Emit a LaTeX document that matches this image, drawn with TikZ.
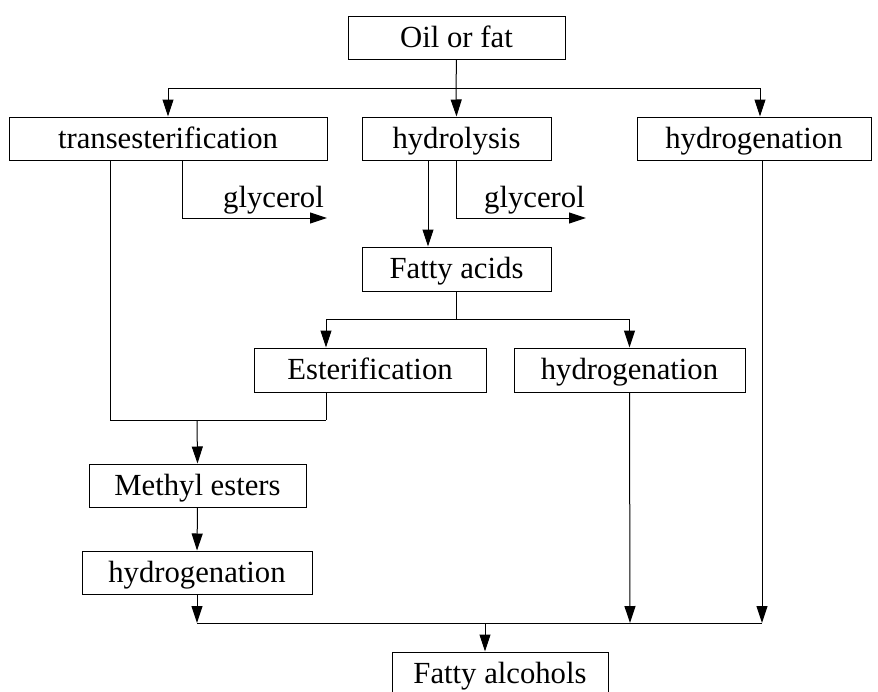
\documentclass[tikz,border=0pt]{standalone}
\usepackage{fontspec}
\setmainfont{Liberation Serif}
\usetikzlibrary{arrows.meta}
\begin{document}
\begin{tikzpicture}[x=1pt,y=-1pt,
  every node/.style={font=\fontsize{30.7}{36}\selectfont, inner sep=0pt,
    text height=24pt, text depth=5pt},
  proc/.style={draw, line width=1pt, minimum height=43pt},
  link/.style={line width=1pt},
  arr/.style={link, -{Triangle[length=17pt,width=11pt]}}]
\useasboundingbox (0,0) rectangle (878,691);

% process boxes
\node[proc, minimum width=217pt] (oil)   at (456.5,37.5)  {Oil or fat};
\node[proc, minimum width=318pt] (trans) at (168,138.5)   {transesterification};
\node[proc, minimum width=189pt] (hydro) at (456.5,138.5) {hydrolysis};
\node[proc, minimum width=234pt] (hydA)  at (754,138.5)   {hydrogenation};
\node[proc, minimum width=189pt, minimum height=44pt] (acids) at (456.5,269) {Fatty acids};
\node[proc, minimum width=232pt, minimum height=44pt] (ester) at (370,370)   {Esterification};
\node[proc, minimum width=231pt, minimum height=44pt] (hydB)  at (629.5,370) {hydrogenation};
\node[proc, minimum width=217pt] (methyl) at (197.5,485.5) {Methyl esters};
\node[proc, minimum width=230pt] (hydC)   at (197,572.5)   {hydrogenation};
\node[proc, minimum width=216pt] (alc)    at (500,673.5)   {Fatty alcohols};

% junction points
\coordinate (top)   at (456,88);
\coordinate (tg)    at (182,218);
\coordinate (hg)    at (456,218);
\coordinate (tgEnd) at (327,218);
\coordinate (hgEnd) at (586,218);
\coordinate (fa)    at (456,319);
\coordinate (tl)    at (110,420);
\coordinate (es)    at (326,420);
\coordinate (me)    at (197,420);
\coordinate (hc)    at (197,623);
\coordinate (hb)    at (630,623);
\coordinate (ha)    at (762,623);
\coordinate (al)    at (485,623);

% labels
\node[anchor=base east] (gly1) at (324,207) {glycerol};
\node[anchor=base east] (gly2) at (585,207) {glycerol};

% oil or fat splits three ways
\draw[link] (oil.south) -- (top);
\draw[arr] (top) -| (trans.north);
\draw[arr] (top) -- (hydro.north);
\draw[arr] (top) -| ([xshift=6pt]hydA.north);

% transesterification
\draw[link] (trans.south -| tl) -- (tl) -- (es);
\draw[arr] (trans.south -| tg) -- (tg) -- (tgEnd);

% hydrolysis
\draw[arr] (hydro.south -| 428,0) -- (acids.north -| 428,0);
\draw[arr] (hydro.south -| hg) -- (hg) -- (hgEnd);

% fatty acids split
\draw[link] (acids.south -| fa) -- (fa);
\draw[arr] (fa) -| (ester.north -| es);
\draw[arr] (fa) -| (hydB.north);

% esterification joins the transesterification line
\draw[link] (ester.south -| es) -- (es);
\draw[arr] (me) -- (methyl.north);
\draw[arr] (methyl.south) -- (hydC.north);

% streams to fatty alcohols
\draw[arr] (hydC.south -| hc) -- (hc);
\draw[arr] (hydB.south) -- (hb);
\draw[arr] (hydA.south -| ha) -- (ha);
\draw[link] (hc) -- (ha);
\draw[arr] (al) -- (alc.north -| al);
\end{tikzpicture}
\end{document}
